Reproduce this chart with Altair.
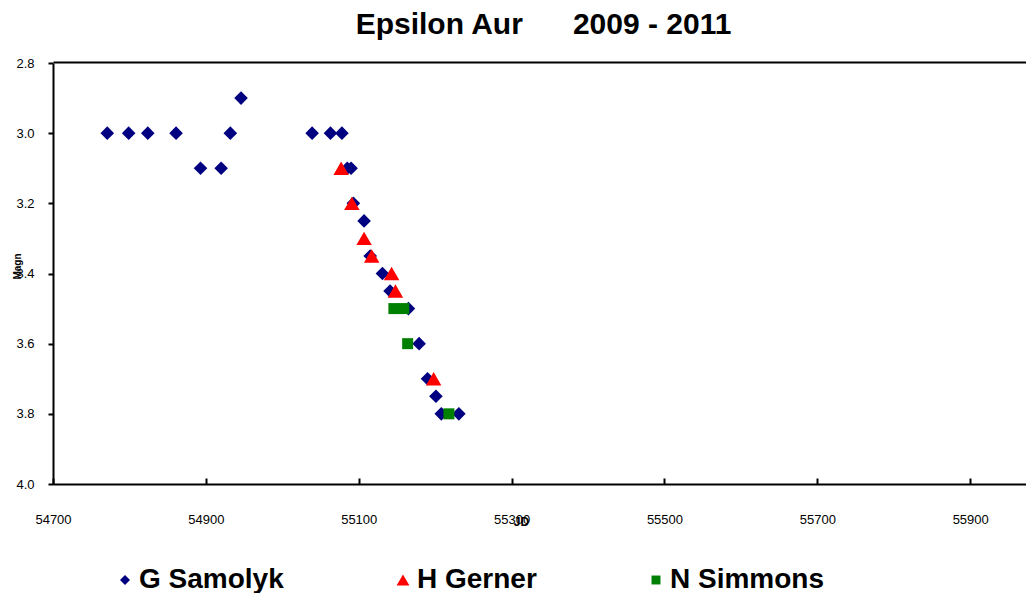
import altair as alt
import pandas as pd

# ---- data ----
samolyk_jd = [54771, 54799, 54824, 54861, 54893, 54920, 54932, 54946, 55039, 55063,
              55078, 55085, 55090, 55093, 55107, 55115, 55131, 55141, 55165, 55179,
              55190, 55201, 55208, 55231]
samolyk_mag = [3.0, 3.0, 3.0, 3.0, 3.1, 3.1, 3.0, 2.9, 3.0, 3.0,
               3.0, 3.1, 3.1, 3.2, 3.25, 3.35, 3.4, 3.45, 3.5, 3.6,
               3.7, 3.75, 3.8, 3.8]
gerner_jd = [55077, 55091, 55107, 55117, 55143, 55148, 55198]
gerner_mag = [3.1, 3.2, 3.3, 3.35, 3.4, 3.45, 3.7]
simmons_jd = [55146, 55159, 55164, 55218]
simmons_mag = [3.5, 3.5, 3.6, 3.8]

series_names = ["G Samolyk", "H Gerner", "N Simmons"]
series_colors = ["#000080", "#FF0000", "#008000"]
series_shapes = ["diamond", "triangle-up", "square"]
series_sizes = [185, 240, 121]
legend_sizes = [100, 165, 80]

x_ticks = [54700, 54900, 55100, 55300, 55500, 55700, 55900]
y_ticks = [2.8, 3.0, 3.2, 3.4, 3.6, 3.8, 4.0]
title_text = "Epsilon Aur " + "\u00a0" * 5 + "2009 - 2011"

FONT = "Liberation Sans"
W, H = 973, 421
xscale = alt.Scale(domain=[54700, 55973], nice=False, zero=False)
yscale = alt.Scale(domain=[2.8, 4.0], reverse=True, nice=False, zero=False)

size_expr = " : ".join(
    f"datum.value == '{n}' ? {s}" for n, s in zip(series_names[:-1], legend_sizes[:-1])
) + f" : {legend_sizes[-1]}"

legend = alt.Legend(
    orient="none", legendX=58, legendY=503, direction="horizontal", title=None,
    labelFont=FONT, labelFontSize=28, labelFontWeight="bold", labelColor="black",
    symbolSize=alt.ExprRef(expr=size_expr), symbolStrokeWidth=0, columnPadding=105,
    labelOffset=0, padding=0, labelLimit=400,
)

x_main = alt.X("JD:Q", scale=xscale, axis=alt.Axis(
    orient="bottom", values=x_ticks, format="d", ticks=False, tickSize=0,
    grid=False, domainColor="black", domainWidth=2, labelFlush=False,
    labelFont=FONT, labelFontSize=13, labelColor="black", labelPadding=29,
    title="JD", titleFont=FONT, titleFontSize=12, titleFontWeight="bold",
    titleColor="black", titleX=468, titleY=37, titleBaseline="middle"))
y_main = alt.Y("Magn:Q", scale=yscale, axis=alt.Axis(
    orient="left", values=y_ticks, format=".1f", tickSize=5, tickWidth=2,
    tickColor="black", domainColor="black", domainWidth=2, grid=False,
    labelFlush=False, labelFont=FONT, labelFontSize=13, labelColor="black",
    labelPadding=14, title="Magn", titleFont=FONT, titleFontSize=10,
    titleFontWeight="bold", titleColor="black", titleX=-35.5, titleY=203,
    titleBaseline="middle", titleAngle=270))
color_enc = alt.Color("series:N", scale=alt.Scale(domain=series_names, range=series_colors),
                      legend=legend)
shape_enc = alt.Shape("series:N", scale=alt.Scale(domain=series_names, range=series_shapes),
                      legend=legend)

layers = []
for name, jds, mags, size in zip(series_names,
                                 [samolyk_jd, gerner_jd, simmons_jd],
                                 [samolyk_mag, gerner_mag, simmons_mag],
                                 series_sizes):
    d = pd.DataFrame({"series": [name] * len(jds), "JD": jds, "Magn": mags})
    layers.append(
        alt.Chart(d).mark_point(filled=True, opacity=1, strokeWidth=0, size=size).encode(
            x=x_main, y=y_main, color=color_enc, shape=shape_enc)
    )
points = alt.layer(*layers)

all_df = pd.DataFrame({"JD": samolyk_jd + gerner_jd + simmons_jd})

inner_ticks = alt.Chart(all_df).mark_point(opacity=0).encode(
    x=alt.X("JD:Q", scale=xscale, axis=alt.Axis(
        orient="top", offset=-H, values=x_ticks, labels=False, domain=False,
        ticks=True, tickSize=6, tickWidth=2, tickColor="black", grid=False, title="")),
)

top_border = alt.Chart(all_df).mark_point(opacity=0).encode(
    x=alt.X("JD:Q", scale=xscale, axis=alt.Axis(
        orient="top", offset=1, values=x_ticks, labels=False, domain=True,
        domainColor="black", domainWidth=2, ticks=False, grid=False, title="")),
)

chart = alt.layer(points, inner_ticks, top_border).resolve_axis(x="independent").properties(
    width=W, height=H,
    title=alt.TitleParams(text=title_text, font=FONT, fontSize=30, fontWeight="bold",
                          color="black", anchor="middle", offset=17, dx=4),
    padding={"left": 45, "top": 55, "right": 0, "bottom": 109},
    autosize=alt.AutoSizeParams(type="none"),
).configure_view(stroke=None)

chart.save("out.html", embed_options={"renderer": "svg", "actions": False})
